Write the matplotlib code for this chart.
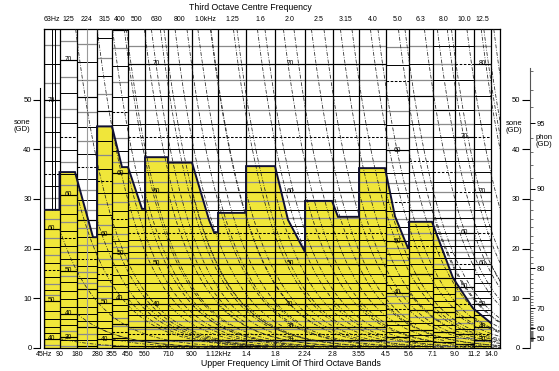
import numpy as np
import matplotlib
matplotlib.use('Agg')
import matplotlib.pyplot as plt

plt.rcParams['font.family'] = ['Liberation Sans', 'DejaVu Sans']

# third octave band edges, measured along the diagram from the left frame
edge_pos = [0, 15.5, 33, 53, 68, 84, 101, 124, 148, 174, 202, 231, 261, 289,
            315, 342, 365, 389, 411, 430, 447]
edge_labels = ['45Hz', '90', '180', '280', '355', '450', '560', '710', '900',
               '1.12kHz', '1.4', '1.8', '2.24', '2.8', '3.55', '4.5', '5.6',
               '7.1', '9.0', '11.2', '14.0']
centre_labels = ['63Hz', '125', '224', '315', '400', '500', '630', '800',
                 '1.0kHz', '1.25', '1.6', '2.0', '2.5', '3.15', '4.0', '5.0',
                 '6.3', '8.0', '10.0', '12.5']

# level -> sone scale of every band column (gain, threshold in dB)
band_gain = [9.4, 4.16, 6.0, 9.0, 1.75, 1.66, 1.66, 1.66, 1.66, 1.66,
             1.66, 1.66, 1.66, 1.66, 1.66, 2.1, 1.66, 1.66, 1.66, 1.66]
band_thresh = [35, 20, 28, 35, 4, 5, 5, 5, 5, 5,
               5, 5, 5, 5, 5, 5, 7, 8, 10, 15]
# band levels that carry a number in the column
band_marks = [[70, 60, 50, 40], [70, 60, 50, 40, 30], [], [60, 50, 40],
              [60, 50, 40], [], [70, 60, 50, 40], [], [], [], [],
              [70, 60, 50, 40, 30, 20], [], [], [], [60, 50, 40], [], [],
              [70, 60, 50], [80, 70, 60, 50, 40, 30]]

# loudness pattern outline (position, sone)
pattern_pos = [0, 15.5, 15.5, 31, 49, 53, 53, 68, 78, 84, 98, 101, 101, 124,
               124, 148, 165, 170, 174, 174, 202, 202, 231, 244, 261, 261,
               288, 294, 315, 315, 341, 351, 364, 365, 365, 388, 409, 429, 447]
pattern_sone = [27.8, 27.8, 35.4, 35.4, 22.3, 22.3, 44.6, 44.6, 36.4, 36.4,
                28.0, 28.0, 38.4, 38.4, 37.3, 37.3, 25.8, 23.3, 23.3, 27.2,
                27.2, 36.6, 36.6, 25.8, 19.3, 29.6, 29.6, 26.4, 26.4, 36.2,
                36.2, 26.5, 20.1, 20.1, 25.4, 25.4, 14.1, 8.0, 5.0]

sone_ticks = [0, 10, 20, 30, 40, 50]
phon_ticks = [50, 60, 70, 80, 90, 95]

z_max = 456
y_top = 64.2
slope_len = 40.0


def level_to_sone(lev, gain, thresh):
    return gain * ((0.5 + 0.5 * 10 ** ((lev - thresh) / 10.0)) ** 0.25 - 1)


def sone2phon(n):
    n = np.maximum(np.asarray(n, dtype=float), 1e-6)
    with np.errstate(all='ignore'):
        return np.where(n >= 1, 40 + 10 * np.log2(n), 40 * (n + 0.0005) ** 0.35)


def phon2sone(p):
    p = np.maximum(np.asarray(p, dtype=float), 0)
    with np.errstate(all='ignore'):
        return np.where(p >= 40, 2 ** ((p - 40) / 10.0), (p / 40.0) ** (1 / 0.35) - 0.0005)


fig = plt.figure(figsize=(5.59, 3.71), dpi=100)
ax = fig.add_axes([44 / 559, 23 / 371, 456 / 559, 319 / 371])
ax.set_xlim(0, z_max)
ax.set_ylim(0, y_top)

yellow = '#f0e63a'
ax.fill([0] + pattern_pos + [447], [0] + pattern_sone + [0],
        color=yellow, lw=0, zorder=1)

# level lines of each band column
styles = {'ten': [], 'five': [], 'even': [], 'odd': []}
for i in range(len(band_gain)):
    x0, x1 = edge_pos[i], edge_pos[i + 1]
    last = -1.0
    for lev in range(1, 110):
        n = level_to_sone(lev, band_gain[i], band_thresh[i])
        if n <= 0.3 or n >= y_top:
            continue
        if lev % 10 and n - last < 1.0:
            continue
        if lev % 10 == 0:
            key = 'ten'
        elif lev % 5 == 0:
            key = 'five'
        elif lev % 2 == 0:
            key = 'even'
        else:
            key = 'odd'
        styles[key].append((n, x0, x1))
        last = n

for key, col, lw, ls in [('odd', '#8a8a8a', 0.9, '-'), ('even', 'black', 0.7, '-'),
                         ('five', 'black', 0.75, (0, (2.5, 1.5))),
                         ('ten', 'black', 0.85, '-')]:
    if styles[key]:
        yy, xa, xb = zip(*styles[key])
        ax.hlines(yy, xa, xb, colors=col, lw=lw, linestyles=ls, zorder=2)

# band column borders
ax.vlines(edge_pos, 0, y_top, colors='black', lw=0.9, zorder=3)
ax.vlines([8, 11], 27.8, y_top, colors='black', lw=0.7, zorder=3)
ax.vlines([43], 0, y_top, colors='#9a9a9a', lw=0.8, zorder=3)

# masking slope templates (dash-dot)
for i in range(len(band_gain)):
    e = edge_pos[i + 1]
    for lev in range(40, 101, 20):
        n0 = level_to_sone(lev, band_gain[i], band_thresh[i])
        if n0 <= 0.8:
            continue
        z = np.linspace(e, min(e + 170, z_max), 80)
        ax.plot(z, n0 * np.exp(-(z - e) / slope_len), color='#222222', lw=0.55,
                ls=(0, (5, 2, 1, 2)), zorder=3)

# outline of the loudness pattern
ax.plot(pattern_pos, pattern_sone, color='#111133', lw=1.4, zorder=4,
        solid_joinstyle='miter')

# level numbers in the columns
for i, marks in enumerate(band_marks):
    xc = (edge_pos[i] + edge_pos[i + 1]) / 2
    for lev in marks:
        n = level_to_sone(lev, band_gain[i], band_thresh[i])
        if 0.5 < n < y_top - 2:
            ax.text(xc, n, str(lev), ha='center', va='center', fontsize=4.8, zorder=5)

for s in ax.spines.values():
    s.set_linewidth(0.9)
ax.set_yticks([])
centres = np.add(edge_pos[:-1], edge_pos[1:]) / 2
ax.set_xticks(edge_pos, edge_labels)
ax.tick_params(axis='x', length=0, pad=2.5, labelsize=5)

top = ax.secondary_xaxis('top')
top.set_xticks(centres, centre_labels)
top.tick_params(length=0, pad=4.5, labelsize=5)
top.spines['top'].set_visible(False)

# left sone scale
left = ax.secondary_yaxis(-4 / 456)
left.set_yticks(sone_ticks)
left.tick_params(length=5, width=0.8, pad=1, labelsize=5.5)
left.spines['left'].set_bounds(0, 52.3)
left.spines['left'].set_linewidth(0.8)

# right sone scale and phon scale on one line
rpos = 486 / 456
right = ax.secondary_yaxis(rpos)
right.set_alignment('left')
right.set_yticks(sone_ticks)
right.tick_params(length=6, width=0.8, pad=1, labelsize=5.5)
right.spines['left'].set_bounds(0, 56.3)
right.spines['left'].set_color('#555555')
right.spines['left'].set_linewidth(0.8)

phon = ax.secondary_yaxis(rpos, functions=(sone2phon, phon2sone))
phon.set_yticks(phon_ticks)
phon.set_yticks(np.arange(45, 99), minor=True)
phon.tick_params(which='major', length=3.5, width=0.7, pad=1, labelsize=5.5)
phon.tick_params(which='minor', length=1.8, width=0.6, color='#555555')
for s in phon.spines.values():
    s.set_visible(False)

fig.text(22 / 559, 1 - 126 / 371, 'sone\n(GD)', ha='center', va='center',
         fontsize=5.5, linespacing=1.0)
fig.text(514 / 559, 1 - 127 / 371, 'sone\n(GD)', ha='center', va='center',
         fontsize=5.5, linespacing=1.0)
fig.text(536 / 559, 1 - 141 / 371, 'phon\n(GD)', ha='left', va='center',
         fontsize=5.5, linespacing=1.0)
fig.text(250 / 559, 1 - 8 / 371, 'Third Octave Centre Frequency', ha='center',
         va='center', fontsize=6.3)
fig.text(291 / 559, 1 - 364 / 371, 'Upper Frequency Limit Of Third Octave Bands',
         ha='center', va='center', fontsize=6.3)

fig.savefig('out.png', dpi=100)
